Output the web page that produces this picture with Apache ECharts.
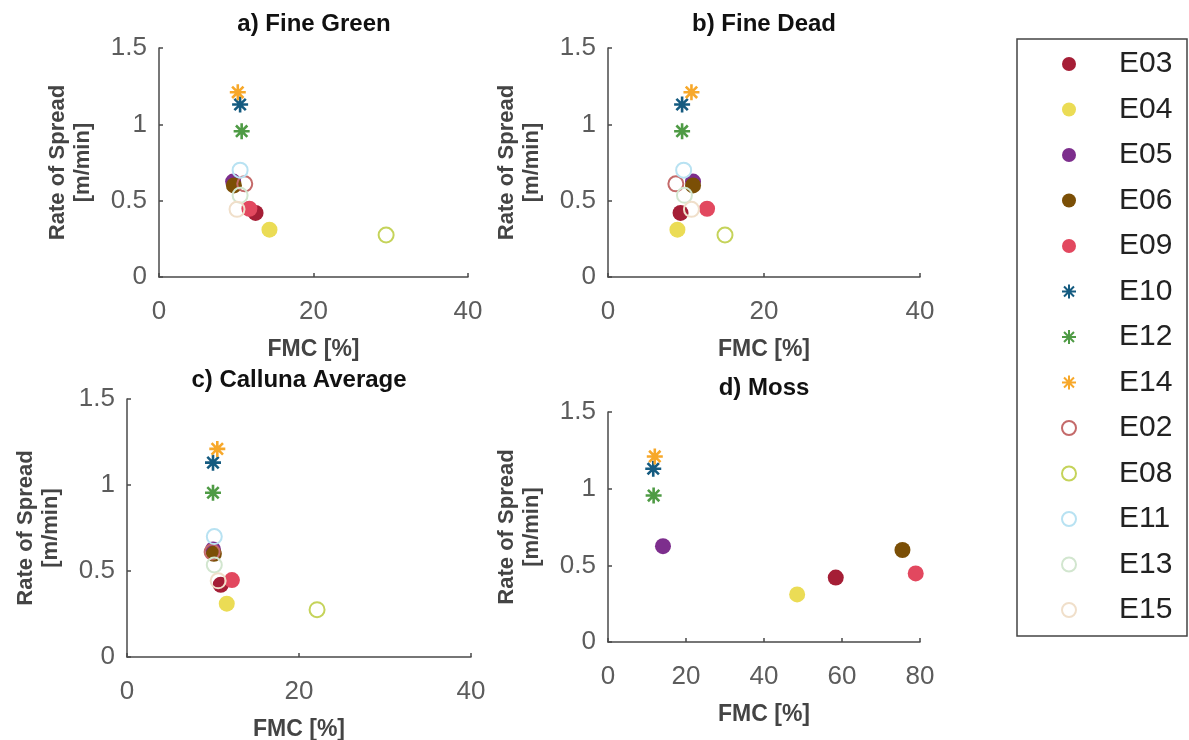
<!DOCTYPE html>
<html>
<head>
<meta charset="utf-8">
<script src="https://cdn.jsdelivr.net/npm/echarts@6/dist/echarts.min.js"></script>
<style>
html,body{margin:0;padding:0;background:#fff;}
#chart{width:1189px;height:740px;}
</style>
</head>
<body>
<div id="chart"></div>
<script>
// ---------------- data ----------------
const experiments = ['E03','E04','E05','E06','E09','E10','E12','E14','E02','E08','E11','E13','E15'];
// Rate of spread [m/min] per experiment
const rateOfSpread = [0.42, 0.31, 0.625, 0.60, 0.447, 1.13, 0.955, 1.21, 0.61, 0.275, 0.70, 0.535, 0.443];
// FMC [%] per experiment for each fuel type (null = not measured)
const fmcFineGreen = [12.5, 14.3, 9.6, 9.7, 11.7, 10.5, 10.7, 10.2, 11.1, 29.4, 10.5, 10.5, 10.1];
const fmcFineDead  = [9.3, 8.9, 10.9, 10.9, 12.7, 9.5, 9.5, 10.7, 8.7, 15.0, 9.7, 9.8, 10.7];
const fmcCalluna   = [10.9, 11.6, 10.0, 10.1, 12.2, 10.0, 10.0, 10.5, 9.9, 22.1, 10.15, 10.15, 10.6];
const fmcMoss      = [58.4, 48.5, 14.1, 75.5, 78.9, 11.6, 11.7, 12.0, null, null, null, null, null];
const panelTitles = ['a) Fine Green', 'b) Fine Dead', 'c) Calluna Average', 'd) Moss'];
const yTicks = [0, 0.5, 1, 1.5];
const xMaxes = [40, 40, 40, 80];

// ---------------- styles ----------------
const FONT = "'Liberation Sans', Arial, sans-serif";
const STAR = 'path://M10 1L10 19M1 10L19 10M3.6 3.6L16.4 16.4M3.6 16.4L16.4 3.6';
const styleMap = {
  E03: {kind:'filled', color:'#a51e36'},
  E04: {kind:'filled', color:'#ebdc55'},
  E05: {kind:'filled', color:'#7d2e8d'},
  E06: {kind:'filled', color:'#7b4f06'},
  E09: {kind:'filled', color:'#e2485f'},
  E10: {kind:'star',   color:'#155b80'},
  E12: {kind:'star',   color:'#4f9b45'},
  E14: {kind:'star',   color:'#f7a82a'},
  E02: {kind:'open',   color:'#c46a6a'},
  E08: {kind:'open',   color:'#c5d35a'},
  E11: {kind:'open',   color:'#b8e2f2'},
  E13: {kind:'open',   color:'#d2e6cf'},
  E15: {kind:'open',   color:'#f0dfca'}
};
function markerFor(name){
  const s = styleMap[name];
  if (s.kind === 'filled') return {symbol:'circle', symbolSize:16, itemStyle:{color:s.color, opacity:1}};
  if (s.kind === 'star') return {symbol:STAR, symbolSize:16, itemStyle:{color:'transparent', borderColor:s.color, borderWidth:2.6, opacity:1}};
  return {symbol:'circle', symbolSize:15, itemStyle:{color:'rgba(255,255,255,0)', borderColor:s.color, borderWidth:2, opacity:1}};
}

const gridBoxes = [
  {left:159, top:48, width:309, height:229},
  {left:608, top:48, width:312, height:229},
  {left:127, top:399, width:344, height:258},
  {left:608, top:412, width:312, height:230}
];
const fmcSets = [fmcFineGreen, fmcFineDead, fmcCalluna, fmcMoss];

const axisLineStyle = {color:'#4a4a4a', width:1.5};
const grids = gridBoxes.map(g => Object.assign({containLabel:false, outerBoundsMode:'none'}, g));
const xAxes = gridBoxes.map((g, i) => ({
  type:'value', gridIndex:i, min:0, max:xMaxes[i], interval:20,
  name:'FMC [%]', nameLocation:'middle', nameGap:61,
  nameTextStyle:{fontFamily:FONT, fontWeight:'bold', fontSize:23, color:'#444'},
  axisLine:{show:true, onZero:false, lineStyle:axisLineStyle},
  axisTick:{show:true, inside:true, length:4, lineStyle:axisLineStyle},
  axisLabel:{fontFamily:FONT, fontSize:26, color:'#5c5c5c', margin:22},
  splitLine:{show:false}
}));
const yAxes = gridBoxes.map((g, i) => ({
  type:'value', gridIndex:i, min:yTicks[0], max:yTicks[yTicks.length-1], interval:yTicks[1]-yTicks[0],
  name:'Rate of Spread\n[m/min]', nameLocation:'middle', nameGap:64,
  nameTextStyle:{fontFamily:FONT, fontWeight:'bold', fontSize:22, color:'#444', lineHeight:25},
  axisLine:{show:true, onZero:false, lineStyle:axisLineStyle},
  axisTick:{show:true, inside:true, length:4, lineStyle:axisLineStyle},
  axisLabel:{fontFamily:FONT, fontSize:26, color:'#5c5c5c', margin:12},
  splitLine:{show:false}
}));

const series = [];
fmcSets.forEach((set, p) => {
  experiments.forEach((name, i) => {
    if (set[i] == null) return;
    series.push(Object.assign({
      type:'scatter', name:name, xAxisIndex:p, yAxisIndex:p,
      data:[[set[i], rateOfSpread[i]]],
      emphasis:{disabled:true}, z:2
    }, markerFor(name)));
  });
});

const titleCenters = [[314, 24], [764, 24], [299, 380], [764, 388]];
const graphics = panelTitles.map((t, i) => ({
  type:'text', x:titleCenters[i][0], y:titleCenters[i][1],
  style:{text:t, fill:'#111', font:"bold 24px " + FONT, textAlign:'center', textVerticalAlign:'middle', align:'center', verticalAlign:'middle'}
}));
graphics.push({type:'rect', shape:{x:1017, y:39, width:170, height:597}, style:{fill:'none', stroke:'#444', lineWidth:1.5}, z:-1});

const chart = echarts.init(document.getElementById('chart'), null, {renderer:'canvas'});
chart.setOption({
  animation:false,
  backgroundColor:'#fff',
  grid:grids, xAxis:xAxes, yAxis:yAxes,
  legend:{
    data:experiments, orient:'vertical', left:1061, top:49, padding:0,
    itemWidth:16, itemHeight:14, itemGap:15.5, selectedMode:false,
    textStyle:{fontFamily:FONT, fontSize:30, color:'#222', lineHeight:30, padding:[0,0,0,37]}
  },
  graphic:graphics,
  series:series
});
</script>
</body>
</html>
